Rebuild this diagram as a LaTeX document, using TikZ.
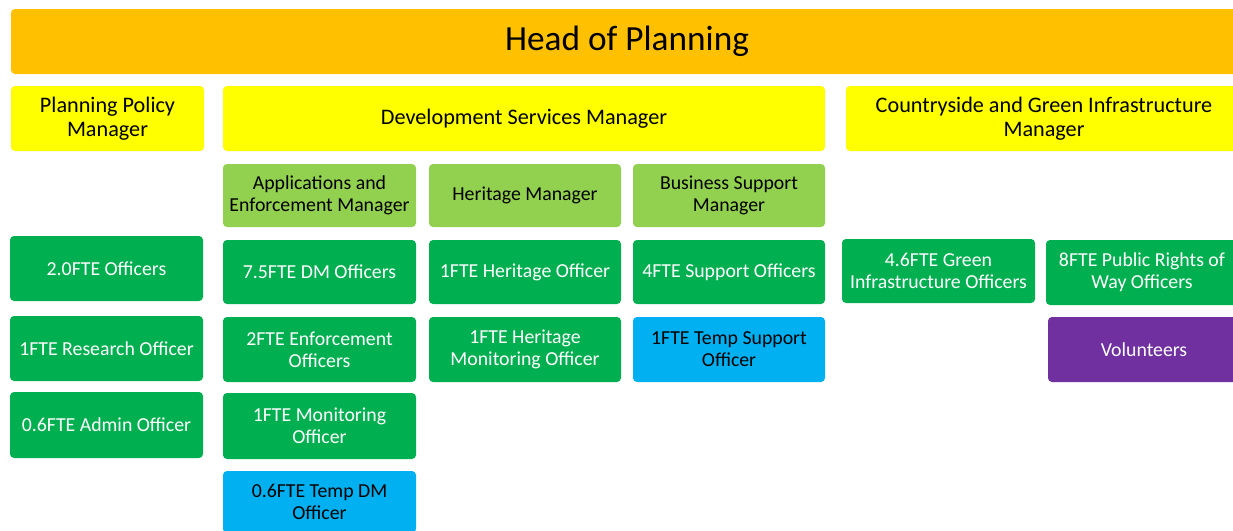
\documentclass[tikz,border=0pt]{standalone}
\usepackage{fontspec}
\setmainfont{Carlito}
\definecolor{headorange}{HTML}{FFC000}
\definecolor{mgryellow}{HTML}{FFFF00}
\definecolor{leadgreen}{HTML}{92D050}
\definecolor{staffgreen}{HTML}{00B050}
\definecolor{tempblue}{HTML}{00B0F0}
\definecolor{volpurple}{HTML}{7030A0}
\tikzset{
  card/.style={rectangle, rounded corners=4pt, inner sep=0pt, draw=none,
    align=center, minimum height=65pt},
  headcard/.style={card, fill=headorange, font=\fontsize{35.3}{40}\selectfont},
  mgrcard/.style={card, fill=mgryellow, font=\fontsize{22.2}{24}\selectfont},
  leadcard/.style={card, fill=leadgreen, minimum height=63pt, font=\fontsize{19.8}{22}\selectfont},
  staffcard/.style={card, fill=staffgreen, text=white, font=\fontsize{19.8}{22}\selectfont},
  tempcard/.style={card, fill=tempblue, font=\fontsize{19.8}{22}\selectfont},
  volcard/.style={card, fill=volpurple, text=white, font=\fontsize{19.8}{22}\selectfont},
}
\begin{document}
\begin{tikzpicture}[x=1pt,y=1pt]
\useasboundingbox (0,0) rectangle (1233,-530);
\clip (0,0) rectangle (1233,-530);
\fill[white] (0,0) rectangle (1233,-530);

% top level
\node[headcard, minimum width=1232pt] (head) at (627,-41.5) {Head of Planning};

% managers
\node[mgrcard, minimum width=193pt] (ppm) at (107.5,-118.5) {Planning Policy\\Manager};
\node[mgrcard, minimum width=602pt] (dsm) at (524,-118.5) {Development Services Manager};
\node[mgrcard, minimum width=396pt] (cgi) at (1044,-118.5) {Countryside and Green Infrastructure\\Manager};

% team leads under development services
\node[leadcard, minimum width=193pt] (aem) at (319.5,-195.5) {Applications and\\Enforcement Manager};
\node[leadcard, minimum width=192pt] (hm) at (525,-195.5) {Heritage Manager};
\node[leadcard, minimum width=192pt] (bsm) at (729,-195.5) {Business Support\\Manager};

% planning policy staff
\node[staffcard, minimum width=193pt] (pp1) at (106.5,-268.5) {2.0FTE Officers};
\node[staffcard, minimum width=193pt] (pp2) at (106.5,-348.5) {1FTE Research Officer};
\node[staffcard, minimum width=193pt, minimum height=66pt] (pp3) at (106.5,-425) {0.6FTE Admin Officer};

% applications and enforcement staff
\node[staffcard, minimum width=193pt, minimum height=64pt] (ae1) at (319.5,-272) {7.5FTE DM Officers};
\node[staffcard, minimum width=193pt] (ae2) at (319.5,-349.5) {2FTE Enforcement\\Officers};
\node[staffcard, minimum width=193pt, minimum height=66pt] (ae3) at (319.5,-426) {1FTE Monitoring\\Officer};
\node[tempcard, minimum width=193pt, minimum height=62pt] (ae4) at (319.5,-502) {0.6FTE Temp DM\\Officer};

% heritage staff
\node[staffcard, minimum width=192pt, minimum height=64pt] (he1) at (525,-272) {1FTE Heritage Officer};
\node[staffcard, minimum width=192pt] (he2) at (525,-349.5) {1FTE Heritage\\Monitoring Officer};

% business support staff
\node[staffcard, minimum width=192pt, minimum height=64pt] (bs1) at (729,-272) {4FTE Support Officers};
\node[tempcard, minimum width=192pt] (bs2) at (729,-349.5) {1FTE Temp Support\\Officer};

% countryside and green infrastructure staff
\node[staffcard, minimum width=193pt, minimum height=64pt] (cg1) at (938.5,-271) {4.6FTE Green\\Infrastructure Officers};
\node[staffcard, minimum width=192pt] (cg2) at (1142,-272.5) {8FTE Public Rights of\\Way Officers};
\node[volcard, minimum width=192pt] (cg3) at (1144,-349.5) {Volunteers};
\end{tikzpicture}
\end{document}
